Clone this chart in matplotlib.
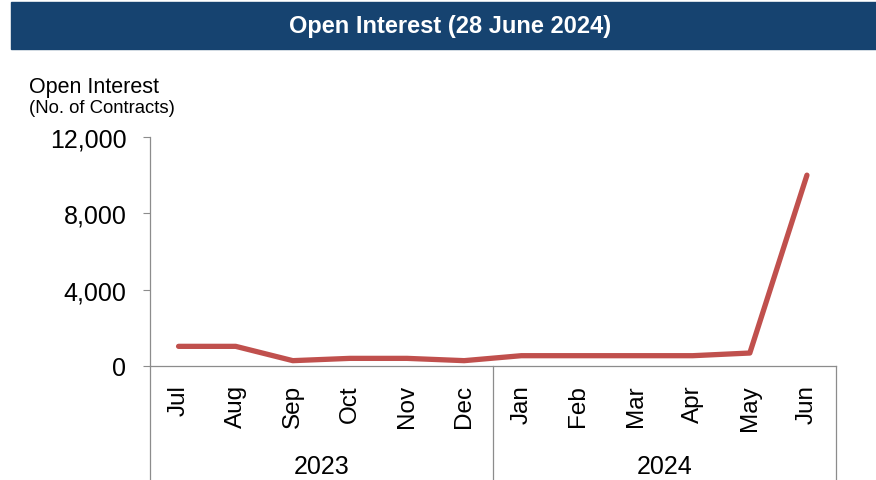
import matplotlib.pyplot as plt
from matplotlib.patches import Rectangle

months = ["Jul", "Aug", "Sep", "Oct", "Nov", "Dec",
          "Jan", "Feb", "Mar", "Apr", "May", "Jun"]
years = ["2023", "2024"]
year_spans = [(0, 5), (6, 11)]
open_interest = [1030, 1030, 280, 400, 400, 280, 540, 540, 540, 540, 680, 10000]
yticks = [0, 4000, 8000, 12000]

plt.rcParams["font.family"] = ["Liberation Sans", "DejaVu Sans"]
grey = "#8c8c8c"

fig = plt.figure(figsize=(8.76, 4.81), dpi=100)

# title banner
fig.patches.append(Rectangle((11 / 876, 1 - 50 / 481), 1, 47 / 481,
                             transform=fig.transFigure, color="#164370", zorder=0))
fig.text(450 / 876, 1 - 26 / 481, "Open Interest (28 June 2024)", color="white",
         fontsize=17, fontweight="bold", ha="center", va="center")

ax = fig.add_axes([150 / 876, 1 - 367 / 481, (835.5 - 150) / 876, 229 / 481])
x = list(range(len(months)))
ax.plot(x, open_interest, color="#C0504D", lw=3.8, solid_capstyle="round")

ax.set_xlim(-0.5, len(months) - 0.5)
ax.set_ylim(0, 12000)
ax.set_yticks(yticks)
ax.set_yticklabels([f"{v:,}" for v in yticks], fontsize=18)
ax.set_xticks(x)
ax.set_xticklabels(months, rotation=90, fontsize=17.5)
ax.tick_params(axis="x", length=0, pad=13)
ax.tick_params(axis="y", length=5, width=0.8, color=grey, pad=12)

for s in ["top", "right"]:
    ax.spines[s].set_visible(False)
for s in ["left", "bottom"]:
    ax.spines[s].set_color(grey)
    ax.spines[s].set_linewidth(0.9)

# category group boxes
trans = ax.get_xaxis_transform()
for xb in [-0.5, 5.5, 11.5]:
    ax.plot([xb, xb], [0, -0.6], color=grey, lw=0.9, transform=trans, clip_on=False)
for (a, b), yr in zip(year_spans, years):
    ax.text((a + b) / 2, -0.437, yr, fontsize=18, ha="center", va="center",
            transform=trans)

fig.text(29 / 876, 1 - 87 / 481, "Open Interest", fontsize=15.5, ha="left", va="center")
fig.text(29 / 876, 1 - 109 / 481, "(No. of Contracts)", fontsize=13.3, ha="left", va="center")

fig.savefig("out.png", dpi=100)
